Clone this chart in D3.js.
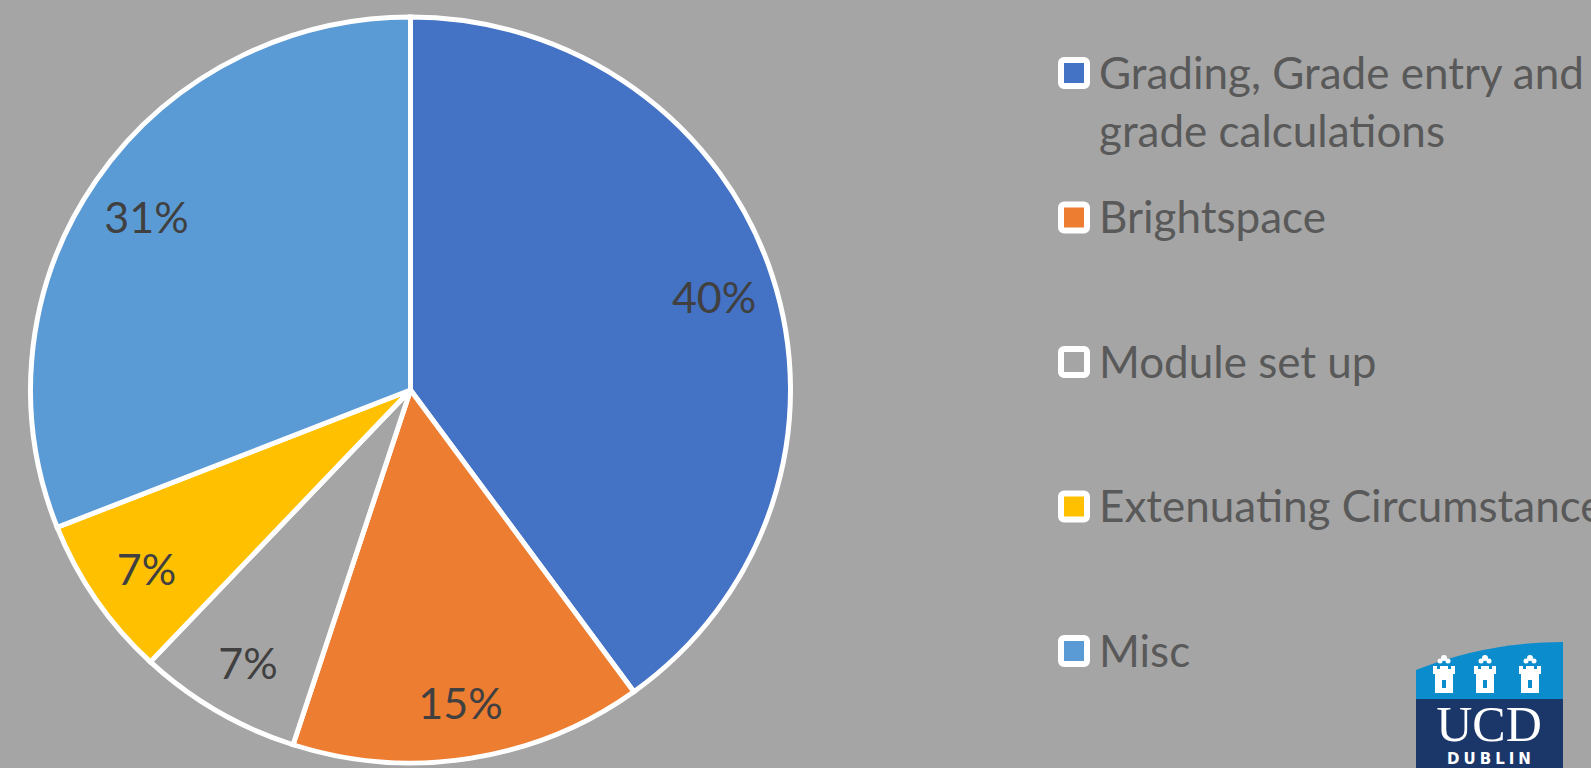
<!DOCTYPE html>
<html lang="en">
<head>
  <meta charset="UTF-8">
  <script src="https://d3js.org/d3.v7.min.js"></script>
  <title>Support queries by category</title>
  <style>
    body { margin: 0; background: #a5a5a5; overflow: hidden; }
    .slice { stroke: #fff; stroke-width: 5px; }
    .pct { font-family: Lato, "Open Sans", sans-serif; fill: #404040; }
    .legend text { font-family: Lato, "Open Sans", sans-serif; fill: #595959; }
  </style>
</head>
<body>
<div id="chart"></div>
<script>
  // data
  const categories = [
    "Grading, Grade entry and grade calculations",
    "Brightspace",
    "Module set up",
    "Extenuating Circumstances",
    "Misc"
  ];
  const shares = [40, 15, 7, 7, 31];
  const colours = ["#4472c4", "#ed7d31", "#a5a5a5", "#ffc000", "#5b9bd5"];

  const width = 1591;
  const height = 768;

  const svg = d3.select("#chart")
          .append("svg")
          .attr("width", width)
          .attr("height", height);

  svg.append("rect")
          .attr("width", width)
          .attr("height", height)
          .attr("fill", "#a5a5a5");

  // pie is slightly squashed vertically in the original
  const rx = 380, ry = 373;
  const cx = 410.5, cy = 390;

  const pie = d3.pie().sort(null).value(d => d);
  const arcs = pie(shares);

  const arc = d3.arc().innerRadius(0).outerRadius(rx);
  const labelArc = d3.arc().innerRadius(rx * 0.84).outerRadius(rx * 0.84);

  const g = svg.append("g")
          .attr("transform", `translate(${cx},${cy}) scale(1,${ry / rx})`);

  g.selectAll("path")
          .data(arcs)
          .enter()
          .append("path")
          .attr("class", "slice")
          .attr("d", arc)
          .attr("fill", (d, i) => colours[i]);

  // percentage labels (drawn unscaled so glyphs are not squashed)
  svg.append("g")
          .selectAll("text")
          .data(arcs)
          .enter()
          .append("text")
          .attr("class", "pct")
          .attr("x", d => cx + labelArc.centroid(d)[0])
          .attr("y", d => cy + labelArc.centroid(d)[1] * ry / rx)
          .attr("dy", "0.45em")
          .attr("text-anchor", "middle")
          .style("font-size", "43px")
          .text(d => d.data + "%");

  // legend
  const legendY = d3.scalePoint().domain(categories).range([73, 651]);
  const textX = 1099;
  const wrapWidth = 540;
  const lineHeight = 58;

  const legend = svg.append("g").attr("class", "legend");

  categories.forEach((name, i) => {
    const y = legendY(name);
    legend.append("rect")
            .attr("x", 1061)
            .attr("y", y - 13)
            .attr("width", 26)
            .attr("height", 26)
            .attr("rx", 3)
            .attr("fill", colours[i])
            .attr("stroke", "#fff")
            .attr("stroke-width", 6);

    const text = legend.append("text")
            .attr("x", textX)
            .attr("y", y)
            .attr("dy", "0.36em")
            .style("font-size", "44px");

    // simple word wrap
    const words = name.split(" ");
    let line = [];
    let tspan = text.append("tspan").attr("x", textX);
    words.forEach(w => {
      line.push(w);
      tspan.text(line.join(" "));
      if (tspan.node().getComputedTextLength() > wrapWidth && line.length > 1) {
        line.pop();
        tspan.text(line.join(" "));
        line = [w];
        tspan = text.append("tspan")
                .attr("x", textX)
                .attr("dy", lineHeight)
                .text(w);
      }
    });
  });

  // UCD logo in the corner
  const logo = svg.append("g").attr("transform", "translate(1416,642)");
  logo.append("path")
          .attr("d", "M0,28 Q70,0 147,0 L147,58 L0,58 Z")
          .attr("fill", "#0b8ccc");
  logo.append("rect")
          .attr("y", 57)
          .attr("width", 147)
          .attr("height", 70)
          .attr("fill", "#1b376a");

  [28, 69, 114].forEach(x => {
    const c = logo.append("g").attr("transform", `translate(${x},0)`).attr("fill", "#fff");
    // flames
    c.append("circle").attr("cx", -4).attr("cy", 19).attr("r", 2.5);
    c.append("circle").attr("cx", 0).attr("cy", 16).attr("r", 3);
    c.append("circle").attr("cx", 4).attr("cy", 19).attr("r", 2.5);
    // towers
    c.append("path")
            .attr("d", "M-11,24 h4 v3 h3 v-3 h8 v3 h3 v-3 h4 v8 h-2 v19 h-18 v-19 h-2 Z");
    c.append("rect")
            .attr("x", -2).attr("y", 38).attr("width", 4).attr("height", 8)
            .attr("fill", "#0b8ccc");
  });

  logo.append("text")
          .attr("x", 73)
          .attr("y", 99)
          .attr("text-anchor", "middle")
          .attr("fill", "#fff")
          .style("font-family", "'Liberation Serif', serif")
          .style("font-size", "50px")
          .text("UCD");

  logo.append("text")
          .attr("x", 75)
          .attr("y", 122)
          .attr("text-anchor", "middle")
          .attr("fill", "#fff")
          .style("font-family", "'DejaVu Sans', sans-serif")
          .style("font-weight", "bold")
          .style("font-size", "15px")
          .style("letter-spacing", "4px")
          .text("DUBLIN");
</script>
</body>
</html>
